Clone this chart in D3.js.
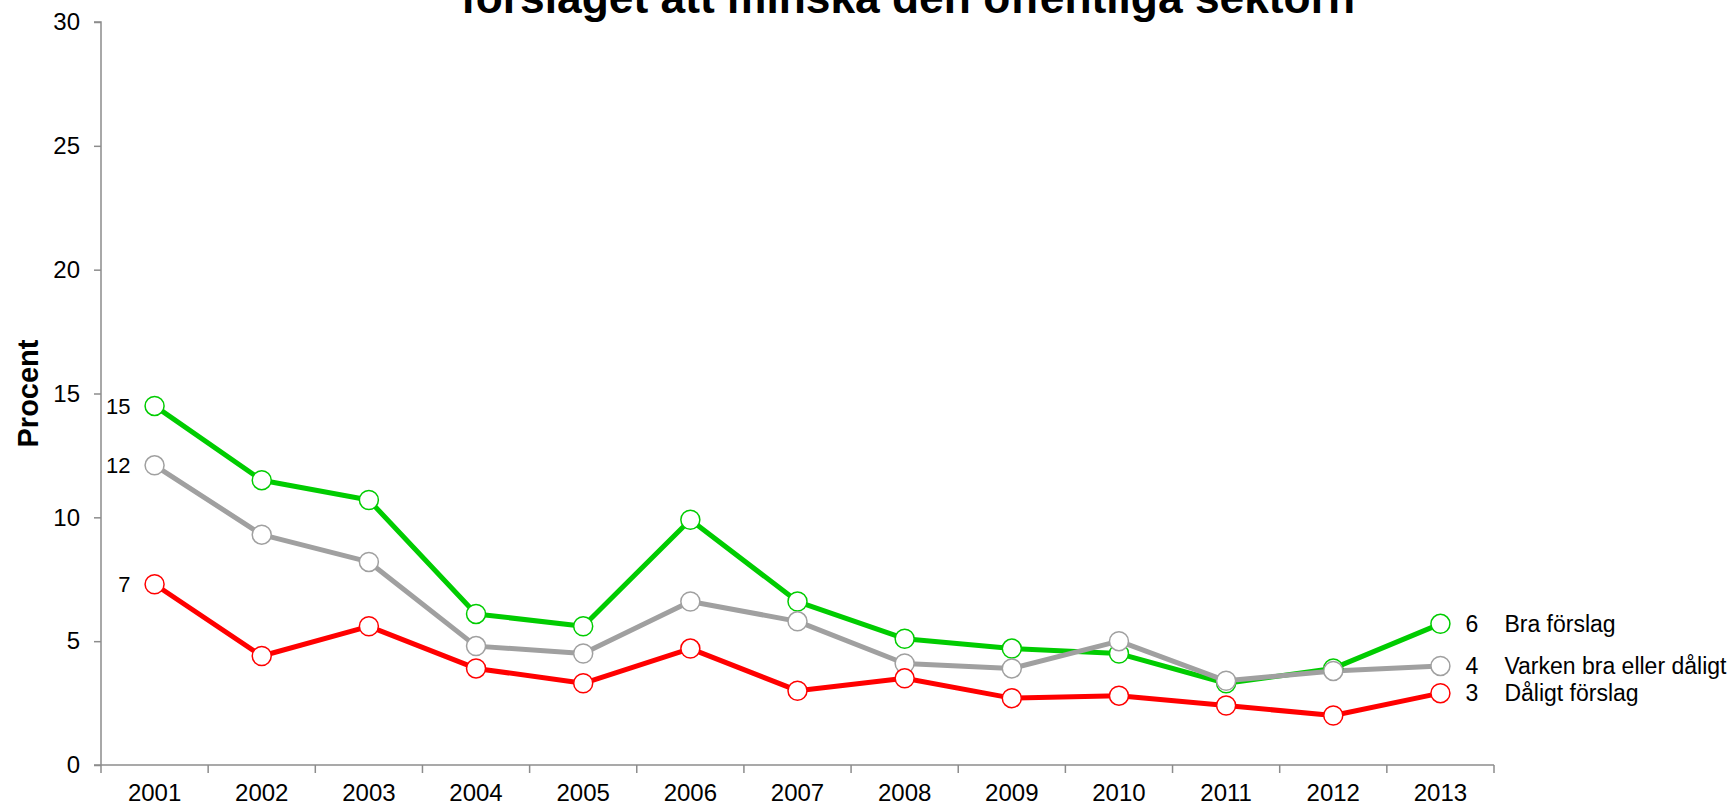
<!DOCTYPE html>
<html>
<head>
<meta charset="utf-8">
<script src="https://cdn.jsdelivr.net/npm/d3@7"></script>
<style>
  body { margin: 0; background: #fff; }
  text { font-family: "Liberation Sans", Arial, sans-serif; fill: #000; }
</style>
</head>
<body>
<script>
const years = ["2001","2002","2003","2004","2005","2006","2007","2008","2009","2010","2011","2012","2013"]
const bra = [14.5, 11.5, 10.7, 6.1, 5.6, 9.9, 6.6, 5.1, 4.7, 4.5, 3.3, 3.9, 5.7]
const varken = [12.1, 9.3, 8.2, 4.8, 4.5, 6.6, 5.8, 4.1, 3.9, 5.0, 3.4, 3.8, 4.0]
const daligt = [7.3, 4.4, 5.6, 3.9, 3.3, 4.7, 3.0, 3.5, 2.7, 2.8, 2.4, 2.0, 2.9]
const seriesNames = ["Bra förslag", "Varken bra eller dåligt", "Dåligt förslag"]
const seriesColors = ["#00cc00", "#a0a0a0", "#ff0000"]
const yTicks = [0, 5, 10, 15, 20, 25, 30]
const titleText = "förslaget att minska den offentliga sektorn"
const yLabel = "Procent"

const width = 1730
const height = 807
const padding = { top: 22, right: 236, bottom: 42, left: 101 }

const series = [bra, varken, daligt].map((values, i) => ({
  name: seriesNames[i], color: seriesColors[i], values
}))

const svg = d3.select("body").append("svg").attr("width", width).attr("height", height)

const scaleX = d3.scaleBand()
  .domain(years)
  .range([padding.left, width - padding.right])

const scaleY = d3.scaleLinear()
  .domain([0, 30])
  .range([height - padding.bottom, padding.top])

const cx = (i) => scaleX(years[i]) + scaleX.bandwidth() / 2

// axes
const yAxis = svg.append("g").attr("transform", `translate(${padding.left},0)`)
  .call(d3.axisLeft(scaleY).tickValues(yTicks).tickSize(7).tickPadding(14))
yAxis.selectAll("path, line").attr("stroke", "#8c8c8c").attr("stroke-width", 1.5)
yAxis.selectAll("text").style("font-size", "24px").attr("fill", "#000")
yAxis.select(".domain").attr("d", `M0,${scaleY(0)}V${scaleY(30)}H-7`)

const xAxis = svg.append("g").attr("transform", `translate(0,${scaleY(0)})`)
xAxis.append("line")
  .attr("x1", padding.left - 7).attr("x2", width - padding.right)
  .attr("stroke", "#8c8c8c").attr("stroke-width", 1.5)
d3.range(years.length + 1).forEach(i => {
  const x = padding.left + i * scaleX.step()
  xAxis.append("line").attr("x1", x).attr("x2", x).attr("y2", 8)
    .attr("stroke", "#8c8c8c").attr("stroke-width", 1.5)
})
years.forEach((y, i) => {
  xAxis.append("text").text(y).attr("x", cx(i)).attr("y", 36)
    .attr("text-anchor", "middle").style("font-size", "24px")
})

// y axis title
svg.append("text").text(yLabel)
  .attr("transform", `translate(38,${(scaleY(0) + scaleY(30)) / 2}) rotate(-90)`)
  .attr("text-anchor", "middle")
  .style("font-size", "29px").style("font-weight", "bold")

// title (only the last line is inside the picture)
svg.append("text").text(titleText)
  .attr("x", 908).attr("y", 13)
  .attr("text-anchor", "middle")
  .attr("textLength", 894).attr("lengthAdjust", "spacingAndGlyphs")
  .style("font-size", "44px").style("font-weight", "bold")

// lines + markers
const line = d3.line()
  .x((d, i) => cx(i))
  .y(d => scaleY(d))

series.forEach(s => {
  svg.append("path").attr("d", line(s.values))
    .attr("fill", "none").attr("stroke", s.color).attr("stroke-width", 5)
    .attr("stroke-linejoin", "round")
})
series.forEach(s => {
  svg.append("g").selectAll("circle").data(s.values).join("circle")
    .attr("cx", (d, i) => cx(i)).attr("cy", d => scaleY(d)).attr("r", 9.5)
    .attr("fill", "#fff").attr("stroke", s.color).attr("stroke-width", 1.5)
})

// start labels
const last = years.length - 1
series.forEach(s => {
  svg.append("text").text(Math.round(s.values[0]))
    .attr("x", cx(0) - 24).attr("y", scaleY(s.values[0])).attr("dy", "0.36em")
    .attr("text-anchor", "end").style("font-size", "22px")
})

// end labels, pushed apart when they crowd
let prevY = -Infinity
series.map(s => ({ s, y: scaleY(s.values[last]) }))
  .sort((a, b) => a.y - b.y)
  .forEach(d => {
    const y = Math.max(d.y, prevY + 21)
    prevY = y
    svg.append("text").text(Math.round(d.s.values[last]))
      .attr("x", cx(last) + 25).attr("y", y).attr("dy", "0.36em")
      .style("font-size", "23px")
    svg.append("text").text(d.s.name)
      .attr("x", cx(last) + 64).attr("y", y).attr("dy", "0.36em")
      .style("font-size", "23px")
  })
</script>
</body>
</html>
